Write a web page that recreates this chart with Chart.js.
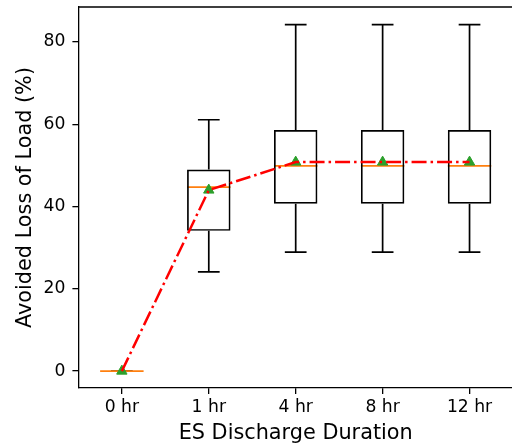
<!DOCTYPE html>
<html>
<head>
<meta charset="utf-8">
<script src="https://cdn.jsdelivr.net/npm/chart.js@4.4.1/dist/chart.umd.min.js"></script>
<style>
  html, body { margin: 0; padding: 0; background: #fff; overflow: hidden; }
  #wrap { width: 512px; height: 447px; overflow: hidden; }
</style>
</head>
<body>
<div id="wrap"><canvas id="chart" width="520" height="447"></canvas></div>
<script>
// discharge durations and box statistics (avoided loss of load, %)
const durations = ["0 hr", "1 hr", "4 hr", "8 hr", "12 hr"];
const whiskerLow = [0, 24.1, 28.9, 28.9, 28.9];
const q1 = [0, 34.1, 40.7, 40.7, 40.7];
const medians = [0, 44.7, 49.9, 49.9, 49.9];
const q3 = [0, 49.0, 58.6, 58.6, 58.6];
const whiskerHigh = [0, 61.1, 84.2, 84.2, 84.2];
const means = [0, 44.0, 50.8, 50.8, 50.8];
const yTicks = [0, 20, 40, 60, 80];

const FONT = "'DejaVu Sans', sans-serif";

// whiskers, caps and median lines, drawn under the box outlines
const boxWhiskers = {
  id: "boxWhiskers",
  beforeDatasetsDraw(chart) {
    const {ctx, scales: {x, y}} = chart;
    const step = x.getPixelForTick(1) - x.getPixelForTick(0);
    const boxHalf = step * 0.25, capHalf = step * 0.125;
    ctx.save();
    ctx.lineWidth = 1.7;
    ctx.strokeStyle = "#000";
    durations.forEach((d, i) => {
      const cx = x.getPixelForTick(i);
      const lo = y.getPixelForValue(whiskerLow[i]), hi = y.getPixelForValue(whiskerHigh[i]);
      const b = y.getPixelForValue(q1[i]), t = y.getPixelForValue(q3[i]);
      ctx.beginPath();
      ctx.moveTo(cx, lo); ctx.lineTo(cx, b);
      ctx.moveTo(cx, t); ctx.lineTo(cx, hi);
      ctx.moveTo(cx - capHalf, lo); ctx.lineTo(cx + capHalf, lo);
      ctx.moveTo(cx - capHalf, hi); ctx.lineTo(cx + capHalf, hi);
      ctx.stroke();
    });
    ctx.strokeStyle = "#ff7f0e";
    durations.forEach((d, i) => {
      const cx = x.getPixelForTick(i);
      const m = y.getPixelForValue(medians[i]);
      ctx.beginPath();
      ctx.moveTo(cx - boxHalf, m); ctx.lineTo(cx + boxHalf, m);
      ctx.stroke();
    });
    ctx.restore();
  },
  afterDraw(chart) {
    // top and right spines
    const {ctx, chartArea: a} = chart;
    ctx.save();
    ctx.strokeStyle = "#000";
    ctx.lineWidth = 1.3;
    ctx.beginPath();
    ctx.moveTo(a.left, a.top); ctx.lineTo(a.right, a.top); ctx.lineTo(a.right, a.bottom);
    ctx.stroke();
    ctx.restore();
  }
};

new Chart(document.getElementById("chart"), {
  data: {
    labels: durations,
    datasets: [
      {
        type: "line",
        label: "mean trend",
        data: means,
        borderColor: "#ff0000",
        borderWidth: 2.5,
        borderDash: [15, 4, 2.5, 4],
        pointRadius: 0,
        fill: false,
        order: 0
      },
      {
        type: "line",
        label: "mean",
        data: means,
        showLine: false,
        pointStyle: "triangle",
        pointRadius: 6,
        pointBackgroundColor: "#2ca02c",
        pointBorderColor: "#2ca02c",
        pointBorderWidth: 1,
        order: 1
      },
      {
        type: "bar",
        label: "IQR",
        data: durations.map((d, i) => [q1[i], q3[i]]),
        backgroundColor: "rgba(0,0,0,0)",
        borderColor: "#000",
        borderWidth: 1.7,
        borderSkipped: false,
        categoryPercentage: 1,
        barPercentage: 0.5,
        order: 2
      }
    ]
  },
  options: {
    responsive: false,
    animation: false,
    layout: { padding: { top: 5, right: 5.4, left: 0, bottom: 0 } },
    plugins: { legend: { display: false }, tooltip: { enabled: false } },
    scales: {
      x: {
        type: "category",
        offset: true,
        afterFit(scale) { scale.height = 59; scale.paddingLeft = 0; scale.paddingRight = 0; },
        grid: { offset: false, drawOnChartArea: false, drawTicks: true, tickLength: 6, color: "#000", lineWidth: 1.3 },
        border: { color: "#000", width: 1.3 },
        ticks: { color: "#000", padding: 3, font: { family: FONT, size: 17.2 } },
        title: {
          display: true,
          text: "ES Discharge Duration",
          color: "#000",
          font: { family: FONT, size: 20.8 },
          padding: { top: 0, bottom: 1 }
        }
      },
      y: {
        type: "linear",
        min: -4.1,
        max: 88.5,
        afterFit(scale) { scale.width = 78.4; scale.paddingTop = 0; scale.paddingBottom = 0; },
        afterBuildTicks(scale) { scale.ticks = yTicks.map(v => ({ value: v })); },
        grid: { drawOnChartArea: false, drawTicks: true, tickLength: 6, color: "#000", lineWidth: 1.3 },
        border: { color: "#000", width: 1.3 },
        ticks: { color: "#000", padding: 7, font: { family: FONT, size: 17.2 } },
        title: {
          display: true,
          text: "Avoided Loss of Load (%)",
          color: "#000",
          font: { family: FONT, size: 20.8 },
          padding: { top: 13.6, bottom: 0 }
        }
      }
    }
  },
  plugins: [boxWhiskers]
});
</script>
</body>
</html>
